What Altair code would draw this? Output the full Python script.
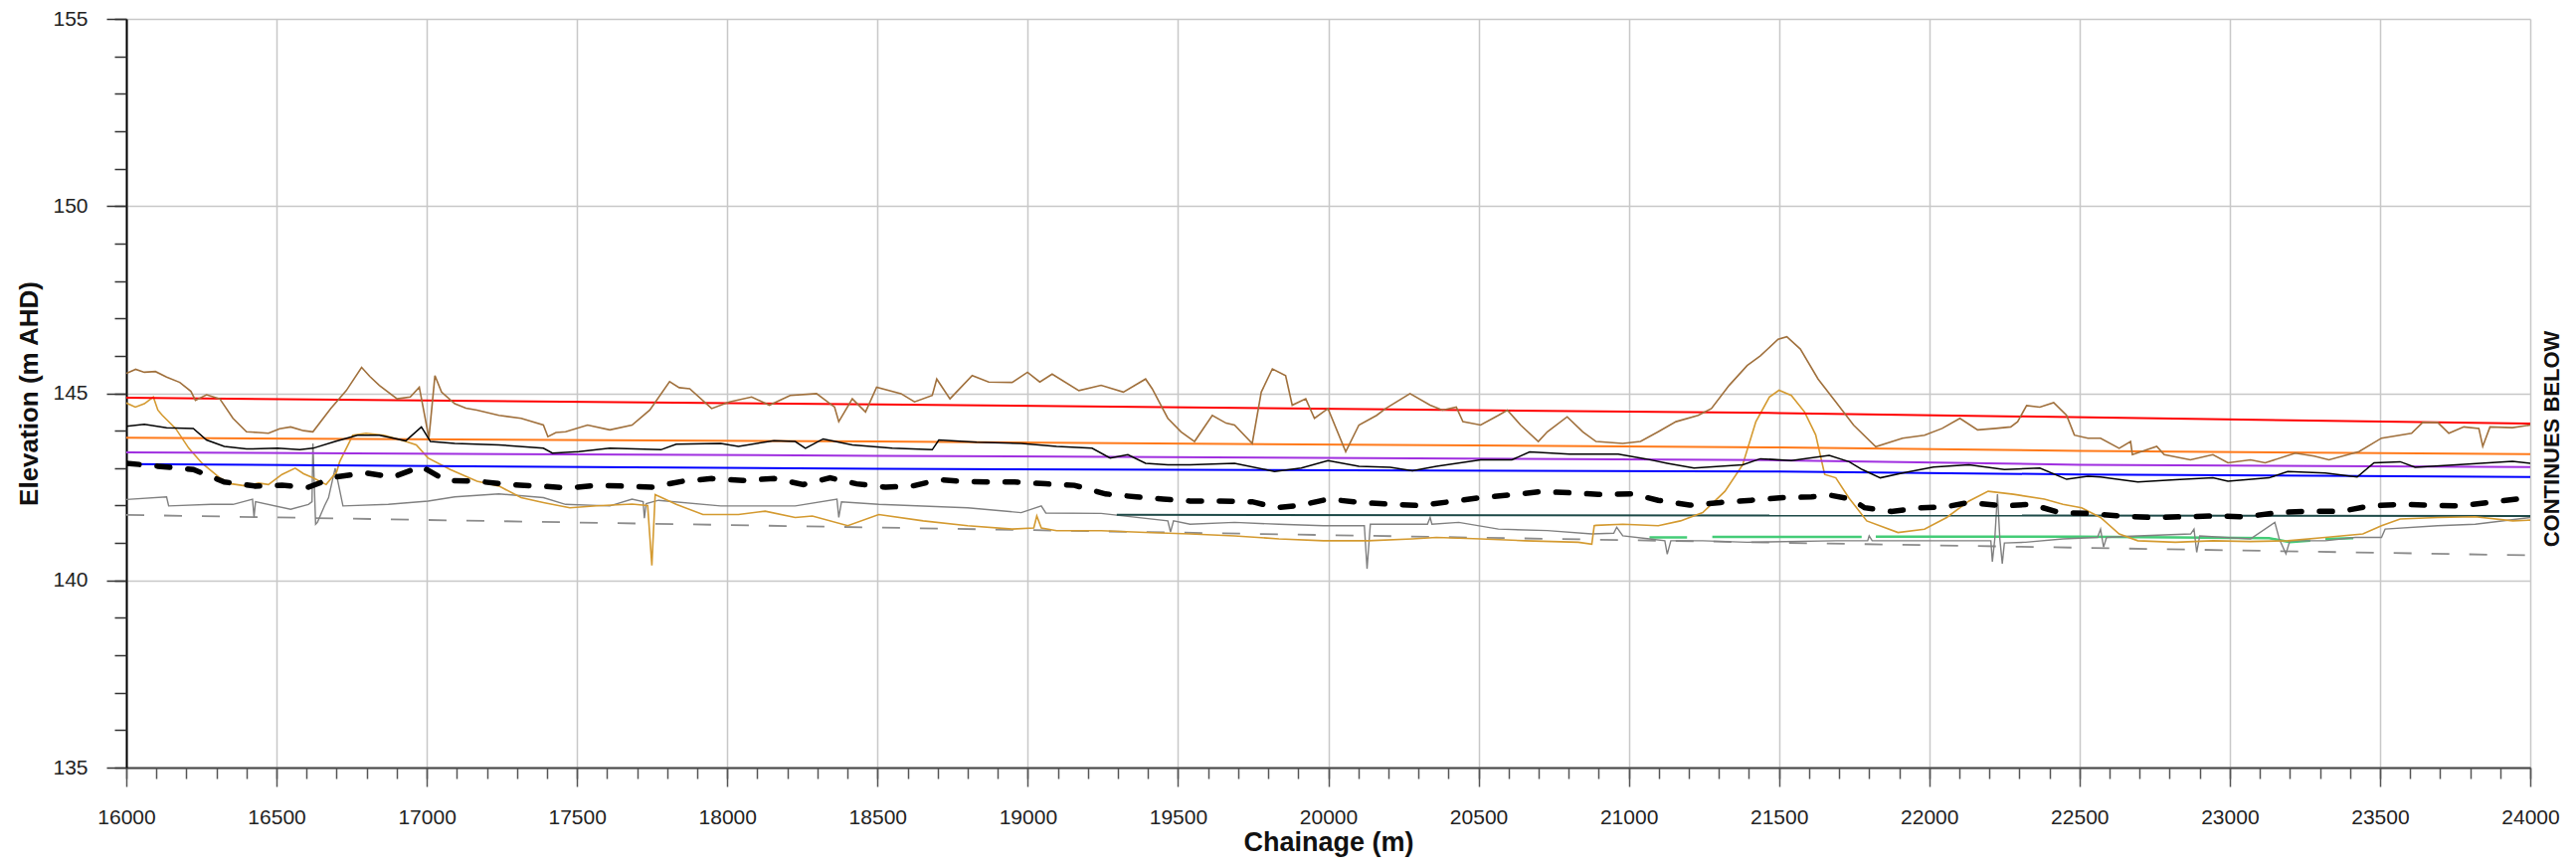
import altair as alt
import pandas as pd

# ---------------- data ----------------
brown_x = [16000, 16031, 16060, 16097, 16134, 16178, 16215, 16230, 16267, 16311, 16355, 16400, 16440, 16473,
           16510, 16547, 16590, 16621, 16680, 16732, 16783, 16810, 16842, 16901, 16945, 16975, 17007, 17027,
           17049, 17093, 17130, 17167, 17240, 17314, 17388, 17403, 17430, 17462, 17535, 17609, 17683, 17742,
           17808, 17840, 17875, 17948, 18007, 18081, 18140, 18209, 18297, 18357, 18371, 18416, 18460, 18497,
           18578, 18623, 18682, 18697, 18741, 18815, 18870, 18948, 18999, 19040, 19081, 19170, 19244, 19318,
           19392, 19414, 19437, 19466, 19510, 19555, 19614, 19660, 19688, 19747, 19777, 19814, 19858, 19880,
           19925, 19954, 19999, 20058, 20102, 20161, 20191, 20272, 20339, 20380, 20426, 20448, 20507, 20566,
           20596, 20640, 20699, 20729, 20795, 20847, 20891, 20980, 21039, 21098, 21157, 21231, 21275, 21334,
           21394, 21438, 21497, 21526, 21571, 21630, 21689, 21748, 21822, 21911, 21984, 22043, 22102, 22161,
           22221, 22271, 22294, 22324, 22368, 22414, 22457, 22483, 22528, 22570, 22632, 22670, 22676, 22757,
           22782, 22869, 22944, 22994, 23069, 23118, 23218, 23281, 23330, 23430, 23505, 23605, 23642, 23692,
           23729, 23779, 23829, 23842, 23866, 23941, 24000]
brown_y = [145.53, 145.64, 145.56, 145.58, 145.43, 145.29, 145.05, 144.81, 144.96, 144.85, 144.33, 143.97, 143.95, 143.93,
           144.05, 144.10, 144.00, 143.97, 144.59, 145.07, 145.69, 145.45, 145.21, 144.85, 144.90, 145.16, 143.80, 145.47,
           145.03, 144.72, 144.60, 144.55, 144.41, 144.33, 144.15, 143.84, 143.95, 143.97, 144.15, 144.02, 144.15, 144.55,
           145.31, 145.15, 145.12, 144.59, 144.77, 144.90, 144.68, 144.94, 144.99, 144.63, 144.24, 144.85, 144.50, 145.16,
           144.99, 144.77, 144.94, 145.38, 144.85, 145.47, 145.30, 145.29, 145.56, 145.30, 145.51, 145.07, 145.21, 145.03,
           145.38, 145.12, 144.77, 144.33, 143.97, 143.71, 144.41, 144.20, 144.15, 143.66, 145.03, 145.65, 145.47, 144.68,
           144.85, 144.33, 144.59, 143.44, 144.15, 144.41, 144.59, 144.99, 144.68, 144.55, 144.63, 144.24, 144.15, 144.41,
           144.55, 144.15, 143.71, 143.97, 144.37, 143.97, 143.71, 143.66, 143.71, 143.97, 144.24, 144.41, 144.59, 145.21,
           145.74, 146.00, 146.44, 146.51, 146.18, 145.38, 144.77, 144.15, 143.57, 143.80, 143.88, 144.06, 144.33, 144.02,
           144.06, 144.10, 144.24, 144.67, 144.63, 144.75, 144.41, 143.88, 143.80, 143.80, 143.53, 143.71, 143.36, 143.58,
           143.36, 143.22, 143.36, 143.14, 143.22, 143.14, 143.40, 143.32, 143.22, 143.44, 143.80, 143.93, 144.22, 144.22,
           143.93, 144.10, 144.06, 143.58, 144.10, 144.08, 144.15]

gold_x = [16000, 16030, 16060, 16090, 16105, 16120, 16164, 16208, 16252, 16311, 16350, 16400, 16440, 16473, 16518,
          16562, 16590, 16621, 16665, 16700, 16710, 16754, 16798, 16857, 16930, 16965, 17004, 17078, 17167, 17240,
          17314, 17388, 17476, 17565, 17683, 17735, 17749, 17760, 17771, 17830, 17919, 18037, 18126, 18226, 18283,
          18401, 18504, 18652, 18800, 18948, 19020, 19030, 19045, 19096, 19244, 19392, 19540, 19688, 19836, 19984,
          20132, 20280, 20360, 20507, 20655, 20832, 20877, 20885, 20891, 20980, 21098, 21172, 21246, 21320, 21379,
          21423, 21468, 21500, 21541, 21585, 21622, 21652, 21689, 21733, 21792, 21896, 21984, 22058, 22132, 22196,
          22280, 22383, 22445, 22507, 22570, 22632, 22694, 22819, 22944, 23068, 23193, 23318, 23443, 23505, 23567,
          23692, 23817, 23942, 24000]
gold_y = [144.74, 144.63, 144.72, 144.90, 144.55, 144.41, 144.06, 143.53, 143.13, 142.74, 142.58, 142.52, 142.60, 142.56, 142.83,
          143.00, 142.85, 142.74, 142.56, 142.90, 143.17, 143.88, 143.93, 143.88, 143.71, 143.62, 143.27, 142.96, 142.65, 142.52,
          142.21, 142.08, 141.94, 141.99, 142.04, 142.00, 140.40, 142.29, 142.25, 142.03, 141.76, 141.76, 141.85, 141.68, 141.72,
          141.46, 141.76, 141.59, 141.46, 141.37, 141.40, 141.72, 141.40, 141.33, 141.33, 141.28, 141.24, 141.19, 141.11, 141.06,
          141.06, 141.11, 141.15, 141.11, 141.06, 141.02, 140.97, 141.46, 141.47, 141.50, 141.46, 141.59, 141.81, 142.38, 143.09,
          144.24, 144.90, 145.08, 144.94, 144.50, 143.89, 142.83, 142.74, 142.20, 141.59, 141.28, 141.37, 141.68, 142.12, 142.38,
          142.30, 142.17, 142.03, 141.94, 141.68, 141.24, 141.06, 141.02, 141.06, 141.04, 141.06, 141.15, 141.24, 141.46, 141.64,
          141.68, 141.70, 141.59, 141.61]

black_x = [16000, 16060, 16134, 16223, 16267, 16326, 16400, 16503, 16577, 16621, 16695, 16769, 16842, 16930, 16982,
           17012, 17093, 17240, 17388, 17418, 17506, 17609, 17779, 17830, 17978, 18037, 18155, 18226, 18260, 18319,
           18416, 18549, 18682, 18704, 18830, 18978, 19096, 19214, 19274, 19333, 19392, 19466, 19540, 19688, 19821,
           19910, 19999, 20102, 20206, 20280, 20360, 20507, 20611, 20670, 20803, 20965, 21054, 21128, 21217, 21379,
           21438, 21541, 21667, 21733, 21777, 21837, 21911, 22014, 22132, 22250, 22368, 22457, 22528, 22570, 22694,
           22819, 22944, 22994, 23131, 23193, 23318, 23424, 23480, 23567, 23617, 23754, 23941, 24000]
black_y = [144.12, 144.17, 144.08, 144.06, 143.75, 143.58, 143.51, 143.53, 143.49, 143.53, 143.71, 143.88, 143.88, 143.73, 144.10,
           143.71, 143.66, 143.62, 143.53, 143.40, 143.44, 143.53, 143.49, 143.64, 143.66, 143.58, 143.73, 143.71, 143.53, 143.78,
           143.62, 143.53, 143.49, 143.75, 143.69, 143.66, 143.58, 143.53, 143.27, 143.36, 143.13, 143.09, 143.09, 143.13, 142.91,
           143.00, 143.20, 143.05, 143.02, 142.93, 143.05, 143.22, 143.22, 143.43, 143.37, 143.37, 143.25, 143.13, 143.00, 143.09,
           143.25, 143.20, 143.34, 143.17, 142.96, 142.74, 142.87, 143.03, 143.09, 142.96, 143.00, 142.70, 142.78, 142.76, 142.63,
           142.69, 142.74, 142.65, 142.74, 142.91, 142.87, 142.76, 143.14, 143.17, 143.02, 143.09, 143.18, 143.13]

gray_x = [16000, 16134, 16141, 16282, 16355, 16420, 16425, 16430, 16547, 16606, 16618, 16621, 16630, 16636, 16660,
          16673, 16695, 16721, 16872, 17004, 17093, 17240, 17388, 17462, 17609, 17683, 17720, 17724, 17730, 17771,
          17978, 18226, 18365, 18371, 18380, 18504, 18800, 18978, 19045, 19060, 19244, 19466, 19475, 19485, 19540,
          19688, 19836, 19984, 20120, 20129, 20140, 20161, 20330, 20339, 20345, 20434, 20566, 20729, 20877, 20950,
          20960, 20980, 21069, 21120, 21128, 21140, 21246, 21394, 21689, 21795, 21800, 21810, 21984, 22205, 22210,
          22218, 22227, 22235, 22243, 22250, 22320, 22445, 22560, 22570, 22580, 22590, 22694, 22870, 22881, 22890,
          22900, 23069, 23150, 23165, 23187, 23200, 23318, 23418, 23505, 23517, 23692, 23817, 24000]
gray_y = [142.16, 142.23, 141.99, 142.03, 142.03, 142.17, 141.69, 142.10, 141.90, 142.03, 142.10, 143.66, 141.50, 141.55, 142.00,
          142.21, 143.00, 141.99, 142.03, 142.12, 142.23, 142.31, 142.21, 142.03, 141.99, 142.17, 142.10, 141.66, 142.05, 142.14,
          141.99, 141.99, 142.17, 141.68, 142.10, 142.03, 141.94, 141.81, 141.99, 141.80, 141.79, 141.59, 141.29, 141.59, 141.50,
          141.55, 141.50, 141.46, 141.46, 140.31, 141.50, 141.50, 141.50, 141.68, 141.50, 141.55, 141.37, 141.33, 141.24, 141.26,
          141.42, 141.19, 141.11, 141.06, 140.70, 141.06, 141.06, 141.02, 141.06, 141.06, 141.19, 141.06, 141.06, 141.06, 140.50,
          141.10, 142.30, 141.10, 140.45, 141.00, 141.02, 141.11, 141.15, 141.37, 140.89, 141.15, 141.19, 141.24, 141.37, 140.75,
          141.19, 141.11, 141.55, 141.10, 140.71, 141.06, 141.06, 141.15, 141.15, 141.37, 141.46, 141.50, 141.68]

dash_x = [16000, 16105, 16223, 16326, 16429, 16518, 16606, 16695, 16798, 16887, 16982, 17064, 17167, 17270, 17373,
          17476, 17565, 17653, 17749, 17852, 17948, 18052, 18157, 18253, 18342, 18430, 18527, 18615, 18704, 18771,
          18867, 18956, 19059, 19155, 19259, 19362, 19451, 19540, 19643, 19747, 19828, 19910, 19999, 20110, 20220,
          20301, 20404, 20507, 20603, 20707, 20803, 20899, 21010, 21098, 21202, 21305, 21408, 21512, 21608, 21667,
          21741, 21785, 21874, 21970, 22051, 22132, 22243, 22339, 22435, 22526, 22638, 22744, 22844, 22950, 23050,
          23162, 23268, 23368, 23468, 23574, 23661, 23767, 23860, 23954, 24000]
dash_y = [143.13, 143.05, 142.96, 142.63, 142.52, 142.54, 142.49, 142.76, 142.87, 142.76, 143.04, 142.67, 142.65, 142.56, 142.52,
          142.47, 142.54, 142.52, 142.49, 142.65, 142.72, 142.67, 142.72, 142.56, 142.74, 142.58, 142.49, 142.52, 142.69, 142.65,
          142.63, 142.63, 142.58, 142.54, 142.31, 142.23, 142.17, 142.12, 142.12, 142.10, 141.94, 142.01, 142.17, 142.08, 142.03,
          142.00, 142.10, 142.21, 142.28, 142.37, 142.34, 142.30, 142.31, 142.14, 142.01, 142.08, 142.14, 142.21, 142.23, 142.28,
          142.17, 141.94, 141.84, 141.94, 141.96, 142.08, 141.99, 142.03, 141.81, 141.79, 141.72, 141.68, 141.70, 141.72, 141.70,
          141.81, 141.85, 141.84, 141.99, 142.03, 142.01, 141.99, 142.08, 142.17, 142.12]

red_x = [16000, 18500, 21500, 24000]
red_y = [144.88, 144.70, 144.47, 144.19]
orange_x = [16000, 18500, 21500, 22500, 24000]
orange_y = [143.81, 143.71, 143.55, 143.46, 143.37]
purple_x = [16000, 18500, 21500, 22500, 24000]
purple_y = [143.42, 143.33, 143.21, 143.09, 143.03]
blue_x = [16000, 18500, 21500, 22500, 24000]
blue_y = [143.11, 142.98, 142.91, 142.83, 142.76]
graydash_x = [16000, 24000]
graydash_y = [141.75, 140.67]
teal_x = [19296, 24000]
teal_y = [141.75, 141.72]
green_x = [21069, 21194, 21278, 21775, 21822, 22500, 23131, 23200, 23268, 23318, 23411]
green_y = [141.15, 141.15, 141.16, 141.16, 141.17, 141.17, 141.13, 141.02, 141.06, 141.11, 141.13]
green_seg = [1, 1, 2, 2, 3, 3, 3, 3, 3, 4, 4]

x_major = list(range(16000, 24001, 500))
x_minor = list(range(16000, 24001, 100))
y_major = list(range(135, 156, 5))
y_minor = list(range(135, 156, 1))

# ---------------- chart ----------------
W, H = 2417, 753
FONT = "Liberation Sans, Arial, sans-serif"
xs = alt.Scale(domain=[16000, 24000], nice=False, zero=False)
ys = alt.Scale(domain=[135, 155], nice=False, zero=False)

x_axis_main = alt.Axis(values=x_major, format="d", title="Chainage (m)", orient="bottom",
                       grid=True, gridColor="#c8c8c8", gridWidth=1.5,
                       domainColor="#444444", domainWidth=2, tickColor="#555555", tickWidth=1.5, tickSize=19,
                       labelFont=FONT, labelFontSize=21, labelColor="#222222", labelPadding=20, labelFlush=False,
                       titleFont=FONT, titleFontSize=27, titleFontWeight="bold", titleColor="#111111", titlePadding=2)
y_axis_main = alt.Axis(values=y_major, format="d", title="Elevation (m AHD)", orient="left",
                       grid=True, gridColor="#c8c8c8", gridWidth=1.5,
                       domainColor="#000000", domainWidth=2, tickColor="#333333", tickWidth=1.5, tickSize=20,
                       labelFont=FONT, labelFontSize=21, labelColor="#222222", labelPadding=19, labelFlush=False,
                       titleFont=FONT, titleFontSize=26, titleFontWeight="bold", titleColor="#111111", titlePadding=10)
x_axis_minor = alt.Axis(values=x_minor, orient="bottom", labels=False, domain=False, grid=False, title=None,
                        tickColor="#555555", tickWidth=1.5, tickSize=11)
y_axis_minor = alt.Axis(values=y_minor, orient="left", labels=False, domain=False, grid=False, title=None,
                        tickColor="#333333", tickWidth=1.5, tickSize=12)


def layer(xv, yv, color, width, dash=None, seg=None, xa=None, ya=None, opacity=1.0, cap="butt"):
    df = pd.DataFrame({"c": xv, "e": yv})
    if seg is not None:
        df["s"] = seg
    kw = dict(color=color, strokeWidth=width, opacity=opacity, strokeCap=cap, clip=True)
    if dash is not None:
        kw["strokeDash"] = dash
    enc = dict(x=alt.X("c:Q", scale=xs, axis=xa), y=alt.Y("e:Q", scale=ys, axis=ya))
    if seg is not None:
        enc["detail"] = "s:N"
    return alt.Chart(df).mark_line(**kw).encode(**enc)


base_axes = layer(red_x, red_y, "#ff0000", 0.1, xa=x_axis_main, ya=y_axis_main, opacity=0)
minor_axes = layer(red_x, red_y, "#ff0000", 0.1, xa=x_axis_minor, ya=y_axis_minor, opacity=0)

layers = [
    base_axes,
    minor_axes,
    layer(graydash_x, graydash_y, "#8c8c8c", 1.8, dash=[18, 20]),
    layer(green_x, green_y, "#44cc77", 2.5, seg=green_seg),
    layer(gray_x, gray_y, "#808080", 1.4),
    layer(teal_x, teal_y, "#1e4a48", 2),
    layer(gold_x, gold_y, "#d49a30", 1.6),
    layer(blue_x, blue_y, "#0000ff", 2),
    layer(purple_x, purple_y, "#a030e0", 2),
    layer(orange_x, orange_y, "#ff7a1a", 2),
    layer(red_x, red_y, "#ff0000", 2),
    layer(brown_x, brown_y, "#a0703c", 1.6),
    layer(black_x, black_y, "#000000", 1.5),
    layer(dash_x, dash_y, "#000000", 5.5, dash=[13, 18], cap="round"),
]

note = alt.Chart(pd.DataFrame({"t": ["CONTINUES BELOW"]})).mark_text(
    text="CONTINUES BELOW", angle=270, font=FONT, fontSize=22, fontWeight="bold", color="#111111",
    align="center", baseline="middle"
).encode(x=alt.value(W + 22), y=alt.value(H / 2 + 46))

chart = alt.layer(*layers, note).resolve_axis(x="independent", y="independent").properties(
    width=W, height=H,
    autosize=alt.AutoSizeParams(type="none"),
    padding={"left": 119, "top": 11, "right": 38, "bottom": 90},
    background="white",
).configure_view(strokeWidth=0)

chart.save("out.html", embed_options={"renderer": "svg", "actions": False})
